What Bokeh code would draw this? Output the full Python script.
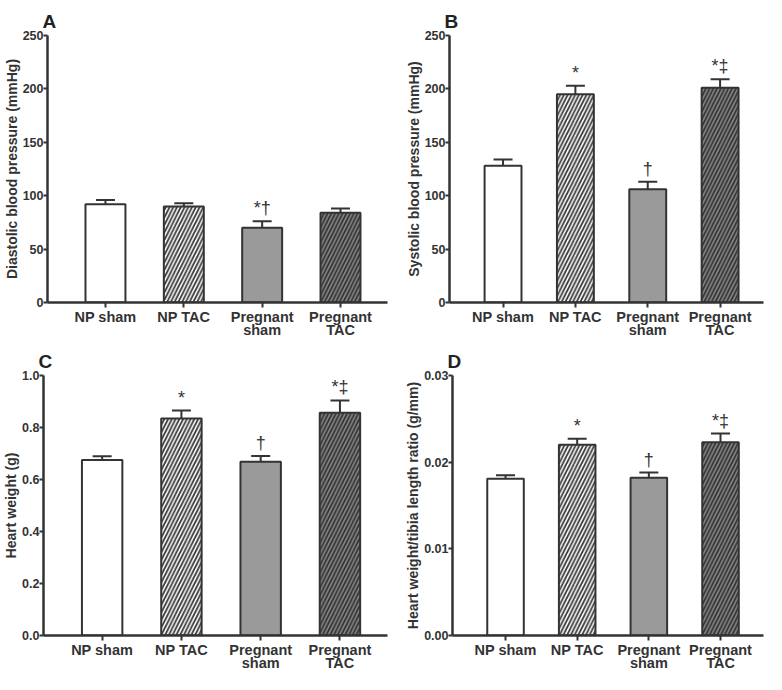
from bokeh.plotting import figure
from bokeh.layouts import column, row
from bokeh.models import (ColumnDataSource, Range1d, FixedTicker, Whisker, TeeHead,
                          NumeralTickFormatter)
from bokeh.core.properties import value
from bokeh.embed import file_html
from bokeh.resources import INLINE

# ---------------- data ----------------
groups = ["NP sham", "NP TAC", "Pregnant\nsham", "Pregnant\nTAC"]

dbp_mean = [92, 90, 70, 84]
dbp_err = [4, 3, 6, 4]
dbp_marks = ["", "", "*\u2020", ""]

sbp_mean = [128, 195, 106, 201]
sbp_err = [6, 8, 7, 8]
sbp_marks = ["", "*", "\u2020", "*\u2021"]

hw_mean = [0.675, 0.835, 0.668, 0.857]
hw_err = [0.014, 0.030, 0.022, 0.047]
hw_marks = ["", "*", "\u2020", "*\u2021"]

hwtl_mean = [0.0181, 0.0220, 0.0182, 0.0223]
hwtl_err = [0.0004, 0.0007, 0.0006, 0.0010]
hwtl_marks = ["", "*", "\u2020", "*\u2021"]

dbp_ticks = [0, 50, 100, 150, 200, 250]
sbp_ticks = [0, 50, 100, 150, 200, 250]
hw_ticks = [0.0, 0.2, 0.4, 0.6, 0.8, 1.0]
hwtl_ticks = [0.00, 0.01, 0.02, 0.03]

# ---------------- style ----------------
FONT = "Liberation Sans"
INK = "#333333"
fills = ["#ffffff", "#ffffff", "#9a9a9a", "#8a8a8a"]
hatches = [" ", "/", " ", "/"]
hatch_cols = [INK, "#3c3c3c", INK, "#333333"]


def panel(letter, ylabel, means, errs, marks, ticks, fmt, width, height,
          left, right, top, bottom):
    p = figure(width=width, height=height, output_backend="svg", toolbar_location=None,
               x_range=Range1d(-0.74, 3.6), y_range=Range1d(ticks[0], ticks[-1]),
               min_border_left=left, min_border_right=right,
               min_border_top=top, min_border_bottom=bottom)
    p.outline_line_color = None
    p.grid.visible = False
    p.background_fill_color = "white"
    p.border_fill_color = "white"

    p.title.text = letter
    p.title.text_font = FONT
    p.title.text_font_size = "19px"
    p.title.text_font_style = "bold"
    p.title.text_color = "#222222"
    p.title.offset = -5
    p.title.standoff = 7

    xs = list(range(len(groups)))
    top_vals = [m + e for m, e in zip(means, errs)]
    src = ColumnDataSource(dict(x=xs, top=means, err_top=top_vals, fill=fills,
                                hatch=hatches, hcol=hatch_cols, mark=marks))

    w = Whisker(source=src, base="x", lower="top", upper="err_top",
                line_color=INK, line_width=2,
                upper_head=TeeHead(size=19, line_color=INK, line_width=2),
                lower_head=None)
    p.add_layout(w)

    p.vbar(x="x", top="top", bottom=0, width=0.51, source=src,
           fill_color="fill", line_color=INK, line_width=2,
           hatch_pattern="hatch", hatch_color="hcol", hatch_scale=7.5,
           hatch_weight=1.8)

    p.text(x="x", y="err_top", text="mark", source=src, text_align="center",
           text_baseline="bottom", y_offset=-3, text_font=value(FONT),
           text_font_size="18px", text_color=INK)

    # axes
    for ax in (p.xaxis[0], p.yaxis[0]):
        ax.axis_line_color = INK
        ax.axis_line_width = 2.5
        ax.major_tick_line_color = INK
        ax.major_tick_line_width = 2
        ax.major_tick_in = 0
        ax.minor_tick_line_color = None
        ax.major_label_text_font = FONT
        ax.major_label_text_font_style = "bold"
        ax.major_label_text_color = INK

    p.yaxis.ticker = FixedTicker(ticks=ticks)
    p.yaxis.formatter = NumeralTickFormatter(format=fmt)
    p.yaxis.major_tick_out = 4
    p.yaxis.major_label_standoff = 0
    p.yaxis.major_label_text_font_size = "12.5px"
    p.yaxis.axis_label = ylabel
    p.yaxis.axis_label_text_font = FONT
    p.yaxis.axis_label_text_font_style = "bold"
    p.yaxis.axis_label_text_font_size = "14px"
    p.yaxis.axis_label_text_color = INK
    p.yaxis.axis_label_standoff = 0

    p.xaxis.ticker = FixedTicker(ticks=xs)
    p.xaxis.major_label_overrides = {i: g for i, g in zip(xs, groups)}
    p.xaxis.major_tick_out = 5
    p.xaxis.major_label_standoff = 1
    p.xaxis.major_label_text_font_size = "14.5px"
    p.xaxis.major_label_text_line_height = 0.85
    return p


pA = panel("A", "Diastolic blood pressure (mmHg)", dbp_mean, dbp_err, dbp_marks,
           dbp_ticks, "0", 402, 344, 43, 15, 35, 42)
pB = panel("B", "Systolic blood pressure (mmHg)", sbp_mean, sbp_err, sbp_marks,
           sbp_ticks, "0", 364, 344, 45, 3, 35, 42)
pC = panel("C", "Heart weight (g)", hw_mean, hw_err, hw_marks,
           hw_ticks, "0.0", 402, 330, 43, 15, 31, 39)
pD = panel("D", "Heart weight/tibia length ratio (g/mm)", hwtl_mean, hwtl_err, hwtl_marks,
           hwtl_ticks, "0.00", 364, 330, 45, 3, 31, 39)

layout = column(row(pA, pB), row(pC, pD))
open("out.html", "w").write(file_html(layout, INLINE))
